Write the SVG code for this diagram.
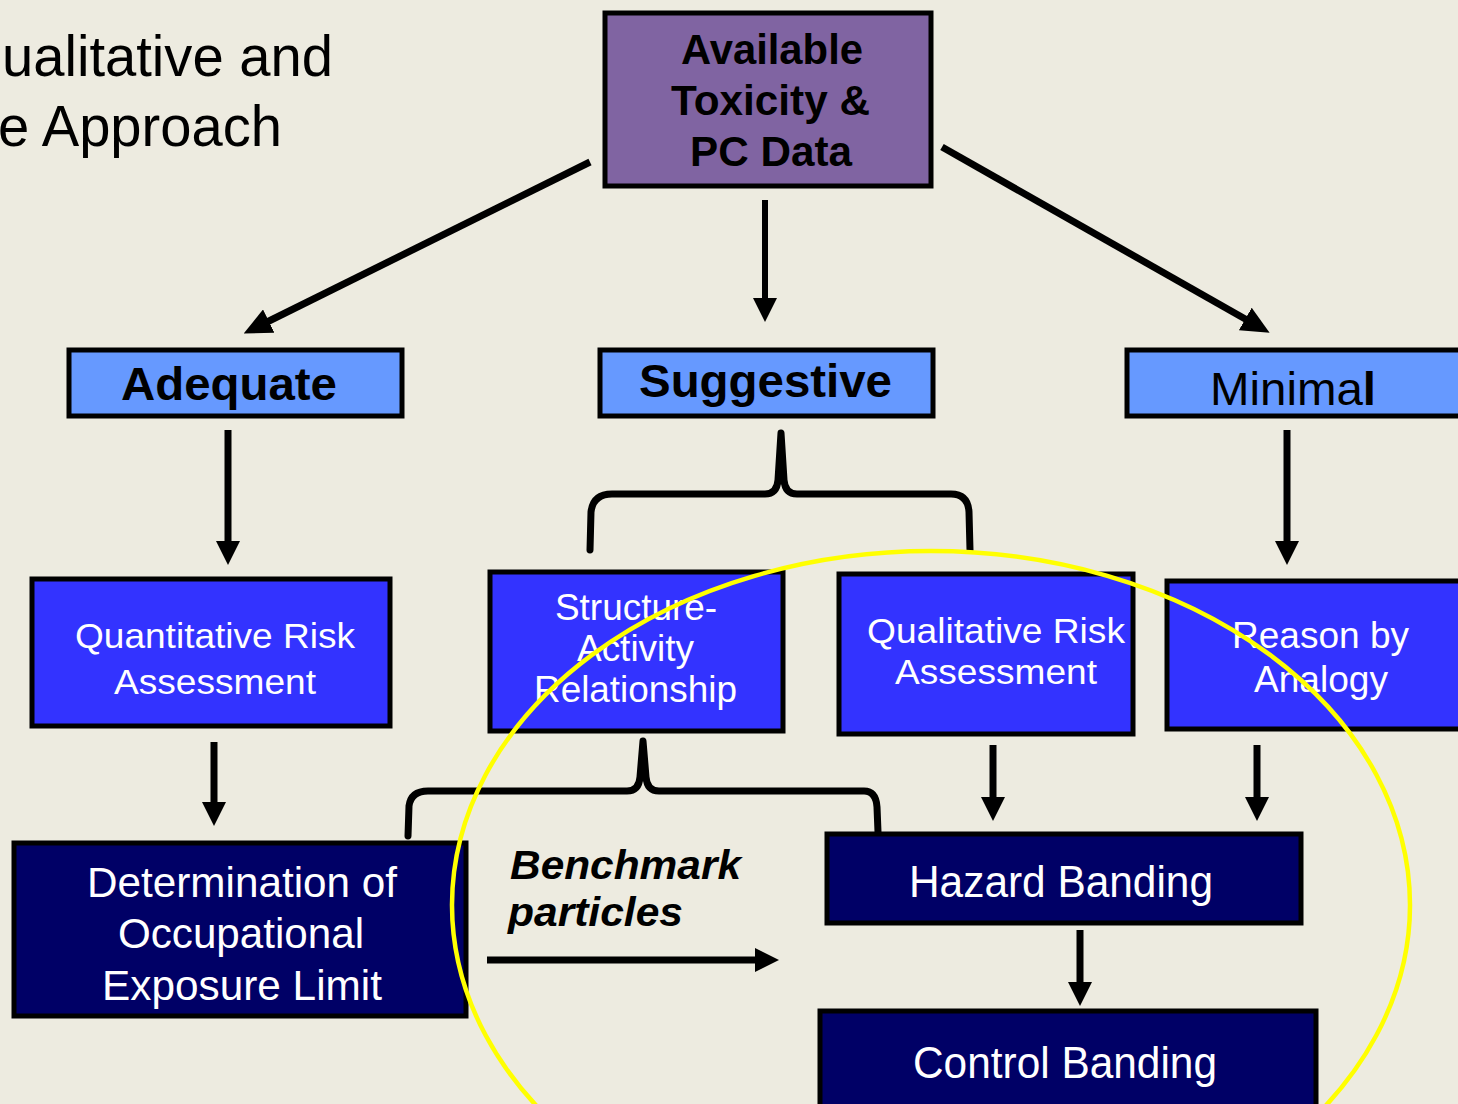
<svg xmlns="http://www.w3.org/2000/svg" width="1458" height="1104" viewBox="0 0 1458 1104">
<style>
.t{font-family:"Liberation Sans",Arial,sans-serif}
.box{stroke:#000;stroke-width:5}
.p{fill:#8064A2}
.lb{fill:#6699FF}
.bl{fill:#3333FF}
.nv{fill:#000066}
.w{fill:#fff}
.k{fill:#000}
.c{stroke:#000;fill:none;stroke-linejoin:round}
</style>
<defs>
<marker id="ah" viewBox="0 0 24 24" refX="2" refY="12" markerWidth="24" markerHeight="24" markerUnits="userSpaceOnUse" orient="auto">
<path d="M0,0 L24,12 L0,24 z" fill="#000"/>
</marker>
<marker id="ahL" viewBox="0 0 28 26" refX="2" refY="13" markerWidth="28" markerHeight="26" markerUnits="userSpaceOnUse" orient="auto">
<path d="M0,0 L28,13 L0,26 z" fill="#000"/>
</marker>
</defs>
<rect width="1458" height="1104" fill="#EDEBE0"/>
<g id="title" class="t k" font-size="58">
<text x="2" y="76" textLength="331" lengthAdjust="spacingAndGlyphs">ualitative and</text>
<text x="-2" y="146" textLength="284" lengthAdjust="spacingAndGlyphs">e Approach</text>
</g>
<g id="connectors">
<line class="c" stroke-width="7" x1="590" y1="162" x2="267" y2="322" marker-end="url(#ahL)"/>
<line class="c" stroke-width="6" x1="765" y1="200" x2="765" y2="300" marker-end="url(#ah)"/>
<line class="c" stroke-width="7" x1="942" y1="147" x2="1247" y2="320" marker-end="url(#ahL)"/>
<line class="c" stroke-width="7" x1="228" y1="430" x2="228" y2="543" marker-end="url(#ah)"/>
<line class="c" stroke-width="7" x1="1287" y1="430" x2="1287" y2="543" marker-end="url(#ah)"/>
<path class="c" stroke-width="7" stroke-linecap="round" d="M590,550 L591,512 Q593,494 612,494 L765,494 Q777,494 778,480 L781,433 L784,480 Q785,494 797,494 L951,494 Q968,494 969,512 L970,550"/>
<line class="c" stroke-width="7" x1="214" y1="742" x2="214" y2="804" marker-end="url(#ah)"/>
<path class="c" stroke-width="7" stroke-linecap="round" d="M408,836 L409,806 Q411,791 428,791 L627,791 Q639,791 640,777 L643,741 L646,777 Q647,791 659,791 L864,791 Q876,791 877,807 L878,832"/>
<line class="c" stroke-width="7" x1="993" y1="745" x2="993" y2="799" marker-end="url(#ah)"/>
<line class="c" stroke-width="7" x1="1257" y1="745" x2="1257" y2="799" marker-end="url(#ah)"/>
<line class="c" stroke-width="7" x1="1080" y1="930" x2="1080" y2="984" marker-end="url(#ah)"/>
<line class="c" stroke-width="7" x1="487" y1="960" x2="757" y2="960" marker-end="url(#ah)"/>
</g>
<g id="n-available">
<rect class="box p" x="605" y="13" width="326" height="173"/>
<g class="t k" font-size="42" font-weight="bold">
<text x="681" y="64" textLength="182" lengthAdjust="spacingAndGlyphs">Available</text>
<text x="671" y="115" textLength="199" lengthAdjust="spacingAndGlyphs">Toxicity &amp;</text>
<text x="690" y="166" textLength="162" lengthAdjust="spacingAndGlyphs">PC Data</text>
</g>
</g>
<g id="n-adequate">
<rect class="box lb" x="69" y="350" width="333" height="66"/>
<text class="t k" x="121" y="400" font-size="46" font-weight="bold" textLength="216" lengthAdjust="spacingAndGlyphs">Adequate</text>
</g>
<g id="n-suggestive">
<rect class="box lb" x="600" y="350" width="333" height="66"/>
<text class="t k" x="639" y="397" font-size="46" font-weight="bold" textLength="253" lengthAdjust="spacingAndGlyphs">Suggestive</text>
</g>
<g id="n-minimal">
<rect class="box lb" x="1127" y="350" width="340" height="66"/>
<text class="t k" x="1210" y="405" font-size="47" textLength="166" lengthAdjust="spacingAndGlyphs">Minima<tspan font-weight="bold">l</tspan></text>
</g>
<g id="n-qra">
<rect class="box bl" x="32" y="579" width="358" height="147"/>
<g class="t w" font-size="35">
<text x="75" y="648" textLength="280" lengthAdjust="spacingAndGlyphs">Quantitative Risk</text>
<text x="114" y="694" textLength="202" lengthAdjust="spacingAndGlyphs">Assessment</text>
</g>
</g>
<g id="n-sar">
<rect class="box bl" x="490" y="572" width="293" height="159"/>
<g class="t w" font-size="36">
<text x="555" y="620" textLength="162" lengthAdjust="spacingAndGlyphs">Structure-</text>
<text x="577" y="661" textLength="117" lengthAdjust="spacingAndGlyphs">Activity</text>
<text x="534" y="702" textLength="203" lengthAdjust="spacingAndGlyphs">Relationship</text>
</g>
</g>
<g id="n-qualra">
<rect class="box bl" x="839" y="574" width="294" height="160"/>
<g class="t w" font-size="35">
<text x="867" y="643" textLength="258" lengthAdjust="spacingAndGlyphs">Qualitative Risk</text>
<text x="895" y="684" textLength="202" lengthAdjust="spacingAndGlyphs">Assessment</text>
</g>
</g>
<g id="n-reason">
<rect class="box bl" x="1167" y="581" width="300" height="148"/>
<g class="t w" font-size="36">
<text x="1232" y="648" textLength="177" lengthAdjust="spacingAndGlyphs">Reason by</text>
<text x="1254" y="692" textLength="134" lengthAdjust="spacingAndGlyphs">Analogy</text>
</g>
</g>
<g id="n-oel">
<rect class="box nv" x="14" y="843" width="452" height="173"/>
<g class="t w" font-size="42">
<text x="87" y="897" textLength="310" lengthAdjust="spacingAndGlyphs">Determination of</text>
<text x="118" y="948" textLength="246" lengthAdjust="spacingAndGlyphs">Occupational</text>
<text x="102" y="1000" textLength="280" lengthAdjust="spacingAndGlyphs">Exposure Limit</text>
</g>
</g>
<g id="n-benchmark" class="t k" font-size="41" font-weight="bold" font-style="italic">
<text x="510" y="879" textLength="231" lengthAdjust="spacingAndGlyphs">Benchmark</text>
<text x="508" y="926" textLength="175" lengthAdjust="spacingAndGlyphs">particles</text>
</g>
<g id="n-hazard">
<rect class="box nv" x="827" y="834" width="474" height="89"/>
<text class="t w" x="909" y="897" font-size="45" textLength="304" lengthAdjust="spacingAndGlyphs">Hazard Banding</text>
</g>
<g id="n-control">
<rect class="box nv" x="820" y="1011" width="496" height="120"/>
<text class="t w" x="913" y="1078" font-size="45" textLength="304" lengthAdjust="spacingAndGlyphs">Control Banding</text>
</g>
<ellipse id="highlight" cx="931" cy="905" rx="479" ry="354" fill="none" stroke="#FFFF00" stroke-width="4.5"/>
</svg>
